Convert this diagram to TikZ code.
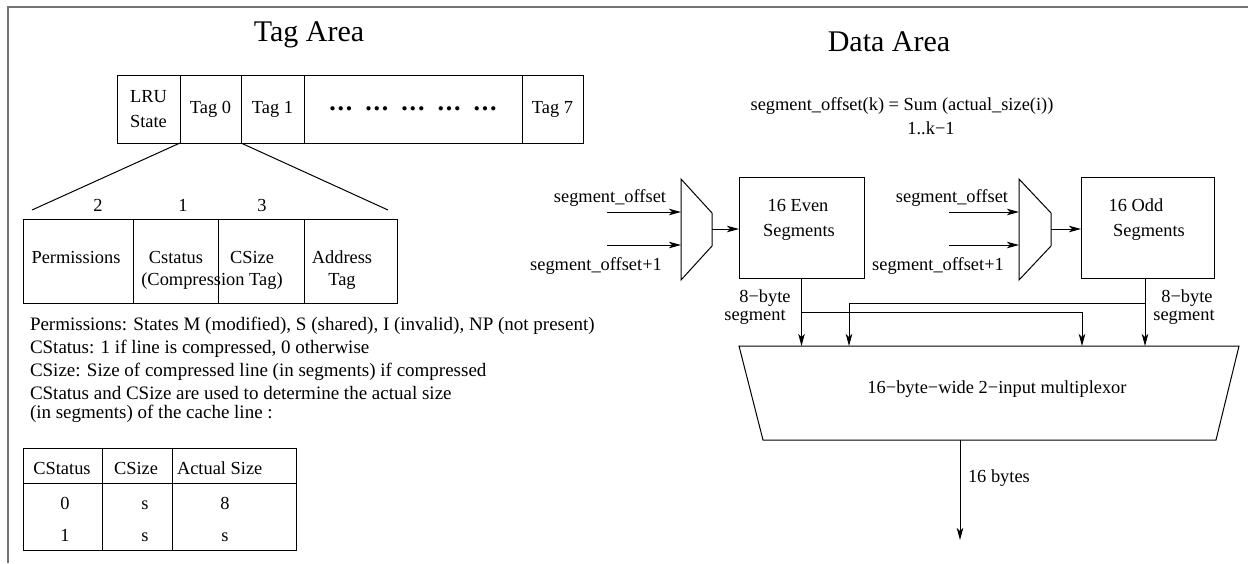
\documentclass[tikz,border=0pt]{standalone}
\usepackage{fontspec}
\setmainfont{Liberation Serif}
\usetikzlibrary{arrows.meta}
\newcommand\mybodyfont{\fontsize{18.4}{21}\selectfont}
\newcommand\mydescfont{\fontsize{19}{21}\selectfont}
\newcommand\mytitlefont{\fontsize{30}{34}\selectfont}
\newcommand\dotgrp{\textbf{.\kern1.8pt.\kern1.8pt.}}
\begin{document}
\begin{tikzpicture}[x=1pt,y=-1pt,
  every node/.style={inner sep=0pt, outer sep=0pt, font=\mybodyfont},
  cell/.style={draw, line width=1pt},
  txt/.style={anchor=base},
  desc/.style={anchor=base west, font=\mydescfont},
  ln/.style={line width=1pt},
  arr/.style={line width=1pt, -{Stealth[length=12pt,width=6.5pt,inset=3pt]}},
  frame/.style={draw=black!55, line width=2pt}]
\useasboundingbox (0,0) rectangle (1248,563);
% frame
\draw[frame] (1248,7) -- (8,7) -- (8,563);
% titles
\node[txt, font=\mytitlefont] (tagtitle) at (309,41) {Tag Area};
\node[txt, font=\mytitlefont] (datatitle) at (889,51) {Data Area};
% tag row
\node[cell, minimum width=63, minimum height=68, align=center, font={\fontsize{18.4}{25}\selectfont}] (lru) at (148.5,109) {LRU\\State};
\node[cell, minimum width=61, minimum height=68] (tag0) at (210.5,109) {Tag 0};
\node[cell, minimum width=63, minimum height=68] (tag1) at (272.5,109) {Tag 1};
\node[cell, minimum width=218, minimum height=68, font={\fontsize{26}{26}\selectfont}] (dots) at (413,109) {\dotgrp\hspace{13pt}\dotgrp\hspace{13pt}\dotgrp\hspace{13pt}\dotgrp\hspace{13pt}\dotgrp};
\node[cell, minimum width=61, minimum height=68] (tag7) at (552.5,109) {Tag 7};
% expansion lines
\coordinate (expl) at (32,210);
\coordinate (expr) at (388,210);
\draw[ln] (tag0.south west) -- (expl);
\draw[ln] (tag0.south east) -- (expr);
% numbers
\node[txt] (n2) at (98,211) {2};
\node[txt] (n1) at (183,211) {1};
\node[txt] (n3) at (262,211) {3};
% field row
\node[cell, minimum width=110, minimum height=84] (perm) at (78,261) {};
\node[cell, minimum width=85, minimum height=84] (cstat) at (175.5,261) {};
\node[cell, minimum width=86, minimum height=84] (csize) at (261,261) {};
\node[cell, minimum width=93, minimum height=84] (addr) at (350.5,261) {};
\node[txt] (tperm) at (76,263) {Permissions};
\node[txt] (tcst) at (176,263) {Cstatus};
\node[txt] (tcomp) at (212,285) {(Compression Tag)};
\node[txt] (tcsz) at (252,263) {CSize};
\node[txt] (tadr) at (342,263) {Address};
\node[txt] (tadt) at (342,285) {Tag};
% description text
\node[desc] (d1) at (30,330) {Permissions: States M (modified), S (shared), I (invalid), NP (not present)};
\node[desc] (d2) at (30,353) {CStatus: 1 if line is compressed, 0 otherwise};
\node[desc] (d3) at (30,376) {CSize: Size of compressed line (in segments) if compressed};
\node[desc] (d4) at (30,399) {CStatus and CSize are used to determine the actual size};
\node[desc] (d5) at (30,418) {(in segments) of the cache line :};
% table
\draw[ln] (23,448) rectangle (296,550);
\draw[ln] (23,483) -- (296,483);
\draw[ln] (102,448) -- (102,550);
\draw[ln] (172,448) -- (172,550);
\node[txt] (h1) at (62,474) {CStatus};
\node[txt] (h2) at (136,474) {CSize};
\node[txt, anchor=base west] (h3) at (177,474) {Actual Size};
\node[txt] (r11) at (65,509) {0};
\node[txt] (r12) at (145,509) {s};
\node[txt] (r13) at (225,509) {8};
\node[txt] (r21) at (65,541) {1};
\node[txt] (r22) at (145,541) {s};
\node[txt] (r23) at (225,541) {s};
% formula
\node[txt] (form) at (902,110) {segment\_offset(k) = Sum (actual\_size(i))};
\node[txt] (formsub) at (931,134) {1..k−1};
% mux 1
\draw[ln] (681,179) -- (712,213) -- (712,246) -- (681,280) -- cycle;
\coordinate (m1a) at (681,212);
\coordinate (m1b) at (681,245);
\coordinate (m1o) at (712,229);
\coordinate (m1as) at (607,212);
\coordinate (m1bs) at (607,245);
\node[txt] (l1a) at (610,202) {segment\_offset};
\node[txt] (l1b) at (596,270) {segment\_offset+1};
\draw[arr] (m1as) -- (m1a);
\draw[arr] (m1bs) -- (m1b);
% mux 2
\draw[ln] (1019,179) -- (1051,213) -- (1051,246) -- (1019,280) -- cycle;
\coordinate (m2a) at (1019,212);
\coordinate (m2b) at (1019,245);
\coordinate (m2o) at (1051,229);
\coordinate (m2as) at (949,212);
\coordinate (m2bs) at (949,245);
\node[txt] (l2a) at (952,202) {segment\_offset};
\node[txt] (l2b) at (938,270) {segment\_offset+1};
\draw[arr] (m2as) -- (m2a);
\draw[arr] (m2bs) -- (m2b);
% segment boxes
\node[cell, minimum width=125, minimum height=101] (even) at (801.5,227.5) {};
\node[cell, minimum width=133, minimum height=101] (odd) at (1147.5,227.5) {};
\node[txt] (te1) at (798,211) {16 Even};
\node[txt] (te2) at (799,236) {Segments};
\node[txt] (to1) at (1136,211) {16 Odd};
\node[txt] (to2) at (1149,236) {Segments};
\draw[arr] (m1o) -- (m1o -| even.west);
\draw[arr] (m2o) -- (m2o -| odd.west);
% big mux
\draw[ln] (739,346) -- (1239,346) -- (1216,440) -- (763,440) -- cycle;
\node[txt] (bmtext) at (997,393) {16−byte−wide 2−input multiplexor};
\coordinate (bmi1) at (801.5,346);
\coordinate (bmi2) at (849,346);
\coordinate (bmi3) at (1082,346);
\coordinate (bmi4) at (1145,346);
\coordinate (evtap) at (801.5,312);
\coordinate (odtap) at (1145,303);
\coordinate (oddbot) at (1145,278);
\draw[arr] (even.south) -- (bmi1);
\draw[arr] (evtap) -| (bmi3);
\draw[arr] (oddbot) -- (bmi4);
\draw[arr] (odtap) -| (bmi2);
\node[txt] (b1a) at (765,302) {8−byte};
\node[txt] (b1b) at (755,320) {segment};
\node[txt] (b2a) at (1187,302) {8−byte};
\node[txt] (b2b) at (1184,320) {segment};
% output
\coordinate (bmout) at (960,440);
\coordinate (outend) at (960,540);
\draw[arr] (bmout) -- (outend);
\node[txt, anchor=base west] (ob) at (968,482) {16 bytes};
\end{tikzpicture}
\end{document}
